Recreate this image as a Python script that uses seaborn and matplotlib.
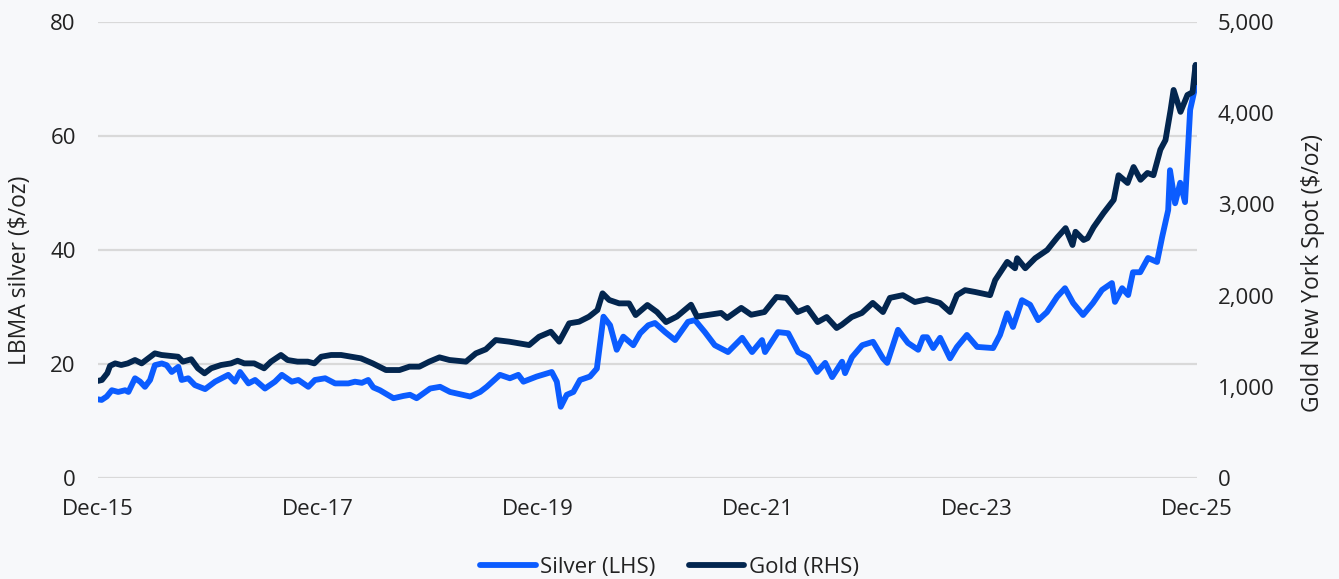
import pandas as pd
import numpy as np
import matplotlib.pyplot as plt
import matplotlib.dates as mdates
from matplotlib.ticker import FuncFormatter
import seaborn as sns

# Silver (LHS), LBMA $/oz
silver_dates = [
    '2015-12-01', '2015-12-13', '2015-12-30', '2016-01-16', '2016-02-06', '2016-02-29', '2016-03-11',
    '2016-04-02', '2016-04-19', '2016-05-05', '2016-05-22', '2016-06-07', '2016-06-30', '2016-07-16',
    '2016-08-02', '2016-08-24', '2016-09-04', '2016-09-26', '2016-10-18', '2016-11-21', '2016-12-24',
    '2017-02-06', '2017-02-28', '2017-03-17', '2017-04-14', '2017-05-06', '2017-06-08', '2017-07-11',
    '2017-08-03', '2017-09-05', '2017-09-27', '2017-10-30', '2017-11-21', '2017-12-25', '2018-01-27',
    '2018-03-12', '2018-04-03', '2018-04-26', '2018-05-17', '2018-06-03', '2018-06-25', '2018-08-09',
    '2018-09-11', '2018-10-03', '2018-10-25', '2018-12-09', '2019-01-11', '2019-02-13', '2019-03-18',
    '2019-04-21', '2019-05-24', '2019-06-15', '2019-07-29', '2019-08-31', '2019-09-28', '2019-10-15',
    '2019-11-28', '2020-01-17', '2020-02-03', '2020-02-16', '2020-03-07', '2020-03-29', '2020-04-20',
    '2020-05-23', '2020-06-15', '2020-07-07', '2020-07-29', '2020-08-20', '2020-09-11', '2020-10-14',
    '2020-11-06', '2020-12-03', '2020-12-25', '2021-01-28', '2021-03-02', '2021-04-14', '2021-05-07',
    '2021-06-09', '2021-07-12', '2021-08-25', '2021-10-11', '2021-11-13', '2021-12-16', '2021-12-26',
    '2022-02-07', '2022-03-13', '2022-04-15', '2022-05-18', '2022-06-17', '2022-07-14', '2022-08-06',
    '2022-09-08', '2022-09-18', '2022-10-11', '2022-11-14', '2022-12-20', '2023-01-22', '2023-02-05',
    '2023-03-13', '2023-04-15', '2023-05-19', '2023-06-04', '2023-06-18', '2023-07-08', '2023-07-31',
    '2023-09-02', '2023-09-25', '2023-10-28', '2023-12-01', '2024-01-23', '2024-02-15', '2024-03-10',
    '2024-03-29', '2024-04-28', '2024-05-25', '2024-06-21', '2024-07-20', '2024-08-23', '2024-09-18',
    '2024-10-15', '2024-11-17', '2024-12-20', '2025-01-19', '2025-02-21', '2025-03-03', '2025-03-27',
    '2025-04-16', '2025-05-02', '2025-05-26', '2025-06-21', '2025-07-21', '2025-08-07', '2025-08-27',
    '2025-09-02', '2025-09-19', '2025-10-06', '2025-10-22', '2025-11-08', '2025-11-25',
]
silver_values = [
    13.8, 13.7, 14.3, 15.4, 15.1, 15.4, 15.1,
    17.5, 16.9, 16.0, 17.2, 19.8, 20.1, 19.8,
    18.6, 19.5, 17.2, 17.5, 16.3, 15.6, 16.9,
    18.1, 16.9, 18.6, 16.6, 17.2, 15.7, 16.9,
    18.1, 16.9, 17.2, 16.0, 17.2, 17.5, 16.6,
    16.6, 16.9, 16.7, 17.2, 15.9, 15.4, 14.0,
    14.4, 14.6, 14.0, 15.7, 16.0, 15.1, 14.7,
    14.3, 15.1, 16.0, 18.1, 17.5, 18.1, 16.9,
    17.8, 18.6, 16.9, 12.5, 14.6, 15.1, 17.2,
    17.8, 19.2, 28.3, 26.8, 22.5, 24.8, 23.3,
    25.4, 26.8, 27.2, 25.6, 24.2, 27.4, 27.7,
    25.6, 23.3, 22.1, 24.6, 22.1, 24.2, 22.1,
    25.6, 25.4, 22.1, 21.2, 18.6, 20.2, 17.7,
    20.4, 18.4, 21.2, 23.3, 23.9, 21.0, 20.2,
    26.0, 23.7, 22.5, 24.7, 24.7, 22.8, 24.6,
    21.0, 23.0, 25.1, 23.0, 22.8, 25.1, 28.9,
    26.5, 31.2, 30.4, 27.7, 29.1, 31.8, 33.3,
    30.7, 28.6, 30.7, 33.0, 34.2, 30.9, 33.3,
    32.1, 36.1, 36.1, 38.6, 37.9, 42.3, 47.0,
    54.0, 48.2, 51.8, 48.4, 64.6, 68.6,
]

# Gold (RHS), New York spot $/oz
gold_dates = [
    '2015-12-01', '2015-12-14', '2016-01-01', '2016-01-10', '2016-01-27', '2016-02-16', '2016-03-09',
    '2016-04-02', '2016-04-24', '2016-05-16', '2016-06-07', '2016-06-29', '2016-08-01', '2016-08-23',
    '2016-09-08', '2016-10-06', '2016-10-28', '2016-11-19', '2016-12-11', '2017-01-13', '2017-02-15',
    '2017-03-09', '2017-03-31', '2017-05-03', '2017-06-05', '2017-06-28', '2017-07-31', '2017-08-22',
    '2017-09-24', '2017-10-28', '2017-11-19', '2017-12-12', '2018-01-14', '2018-02-16', '2018-03-21',
    '2018-04-23', '2018-06-01', '2018-06-23', '2018-07-15', '2018-08-29', '2018-10-01', '2018-11-03',
    '2018-12-06', '2019-01-09', '2019-02-11', '2019-04-07', '2019-05-10', '2019-06-12', '2019-07-15',
    '2019-08-29', '2019-10-01', '2019-11-03', '2019-12-06', '2020-01-14', '2020-02-11', '2020-03-15',
    '2020-04-17', '2020-05-20', '2020-06-17', '2020-07-04', '2020-07-26', '2020-08-28', '2020-09-30',
    '2020-10-22', '2020-11-30', '2021-01-01', '2021-01-31', '2021-03-08', '2021-04-24', '2021-05-14',
    '2021-08-02', '2021-08-22', '2021-10-08', '2021-11-10', '2021-12-24', '2022-02-02', '2022-03-07',
    '2022-04-13', '2022-05-16', '2022-06-19', '2022-07-19', '2022-08-21', '2022-09-07', '2022-10-10',
    '2022-11-13', '2022-12-19', '2023-01-22', '2023-02-14', '2023-03-29', '2023-05-08', '2023-06-04',
    '2023-06-17', '2023-07-30', '2023-09-02', '2023-09-25', '2023-10-22', '2023-11-24', '2024-01-13',
    '2024-01-30', '2024-03-10', '2024-04-05', '2024-04-12', '2024-05-09', '2024-06-11', '2024-07-21',
    '2024-08-24', '2024-09-20', '2024-10-13', '2024-10-23', '2024-11-19', '2024-12-02', '2024-12-22',
    '2025-01-24', '2025-02-27', '2025-03-15', '2025-04-14', '2025-05-04', '2025-05-27', '2025-06-19',
    '2025-07-09', '2025-08-01', '2025-08-18', '2025-09-04', '2025-09-14', '2025-10-07', '2025-10-30',
    '2025-11-16', '2025-11-26', '2025-11-30',
]
gold_values = [
    1065, 1075, 1150, 1230, 1257, 1239, 1257,
    1294, 1257, 1312, 1367, 1349, 1338, 1330,
    1276, 1302, 1203, 1148, 1203, 1239, 1257,
    1286, 1257, 1257, 1203, 1276, 1349, 1294,
    1276, 1276, 1257, 1330, 1349, 1349, 1330,
    1312, 1257, 1221, 1184, 1184, 1221, 1221,
    1276, 1323, 1294, 1276, 1367, 1411, 1513,
    1495, 1477, 1458, 1549, 1604, 1495, 1696,
    1714, 1769, 1842, 2025, 1952, 1915, 1915,
    1787, 1897, 1820, 1710, 1770, 1900, 1770,
    1810, 1755, 1865, 1790, 1820, 1985, 1975,
    1820, 1865, 1710, 1765, 1645, 1680, 1765,
    1810, 1920, 1820, 1975, 2005, 1930, 1950,
    1960, 1920, 1820, 2005, 2060, 2040, 2005,
    2170, 2370, 2300, 2410, 2300, 2410, 2500,
    2640, 2740, 2555, 2700, 2610, 2630, 2750,
    2905, 3050, 3320, 3235, 3410, 3270, 3345,
    3320, 3600, 3705, 4035, 4255, 4015, 4200,
    4230, 4530, 4340,
]

tick_dates = ['2015-12-01', '2017-12-01', '2019-12-01', '2021-12-01', '2023-12-01', '2025-12-01']
tick_labels = ['Dec-15', 'Dec-17', 'Dec-19', 'Dec-21', 'Dec-23', 'Dec-25']

silver = pd.DataFrame({'date': pd.to_datetime(silver_dates), 'price': silver_values})
gold = pd.DataFrame({'date': pd.to_datetime(gold_dates), 'price': gold_values})

bg = '#f7f8fa'
text_col = '#222222'
silver_col = '#0b5cff'
gold_col = '#03264f'

sns.set_theme(style='white', rc={'axes.facecolor': bg, 'figure.facecolor': bg})
plt.rcParams['font.family'] = ['Open Sans', 'DejaVu Sans']

fig = plt.figure(figsize=(13.39, 5.79), dpi=100)
ax = fig.add_axes([0.0732, 0.1744, 0.8208, 0.7876])
ax2 = ax.twinx()

sns.lineplot(data=silver, x='date', y='price', ax=ax, color=silver_col, linewidth=4.2,
             label='Silver (LHS)', legend=False)
sns.lineplot(data=gold, x='date', y='price', ax=ax2, color=gold_col, linewidth=4.2,
             label='Gold (RHS)', legend=False)

ax.set_ylim(0, 80)
ax.set_yticks([0, 20, 40, 60, 80])
ax2.set_ylim(0, 5000)
ax2.set_yticks([0, 1000, 2000, 3000, 4000, 5000])
ax2.yaxis.set_major_formatter(FuncFormatter(lambda v, p: f'{int(v):,}'))

ax.set_xlim(pd.Timestamp('2015-12-01'), pd.Timestamp('2025-12-01'))
ax.set_xticks(pd.to_datetime(tick_dates))
ax.set_xticklabels(tick_labels)

ax.grid(axis='y', color='#d9d9d9', linewidth=1.6)
ax.set_axisbelow(True)
for a in (ax, ax2):
    for s in a.spines.values():
        s.set_visible(False)
    a.tick_params(length=0, labelsize=16, colors=text_col)
ax.tick_params(axis='y', pad=16)
ax2.tick_params(axis='y', pad=15)
ax.tick_params(axis='x', pad=15)

ax.set_xlabel('')
ax.set_ylabel('LBMA silver ($/oz)', fontsize=16.5, color=text_col)
ax2.set_ylabel('Gold New York Spot ($/oz)', fontsize=16.5, color=text_col)
ax.yaxis.set_label_coords(-0.06, 0.455)
ax2.yaxis.set_label_coords(1.095, 0.45)

h1, l1 = ax.get_legend_handles_labels()
h2, l2 = ax2.get_legend_handles_labels()
fig.legend(h1 + h2, l1 + l2, loc='lower center', bbox_to_anchor=(0.5, -0.032), ncol=2,
           frameon=False, fontsize=16, handlelength=2.5, handletextpad=0.2, columnspacing=1.5,
           labelcolor=text_col)

fig.savefig('out.png', dpi=100, facecolor=bg)
